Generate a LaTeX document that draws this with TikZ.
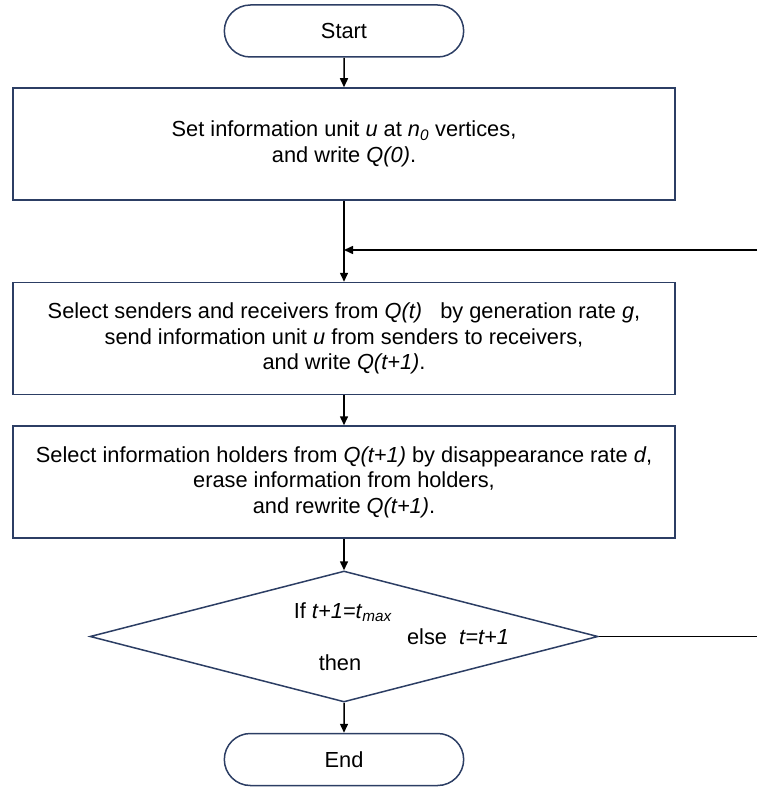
\documentclass[tikz,border=0pt]{standalone}
\usepackage{fontspec}
\setmainfont{Liberation Sans}
\usetikzlibrary{shapes.geometric,shapes.misc,arrows.meta}
\definecolor{boxline}{RGB}{44,62,100}
\begin{document}
\begin{tikzpicture}[x=1pt,y=-1pt,>={Triangle[length=9pt,width=8pt]},font=\fontsize{21.8}{25.5}\selectfont]
        \tikzstyle{terminal}=[rounded rectangle,draw=boxline,line width=1.5pt,minimum width=246pt,minimum height=52pt]
        \tikzstyle{process}=[rectangle,draw=boxline,line width=1.5pt,minimum width=662pt,minimum height=112pt,align=center]
        \tikzstyle{decision}=[diamond,draw=boxline,line width=1.5pt,minimum width=508pt,minimum height=131pt,inner sep=0pt]
        \tikzstyle{edge}=[draw=black, line width=1.5pt]

        \useasboundingbox (0,0) rectangle (757,789);

         \node [terminal] (start) at (344,31) {Start};
         \node [process] (init) at (344,144) {Set information unit \textit{u} at \textit{n}\textsubscript{\textit{0}} vertices,\\and write \textit{Q(0)}.};
         \node [process] (send) at (344,338.5) {Select senders and receivers from \textit{Q(t)}\ \ \ by generation rate \textit{g},\\send information unit \textit{u} from senders to receivers,\\and write \textit{Q(t+1)}.};
         \node [process] (erase) at (344,482) {Select information holders from \textit{Q(t+1)} by disappearance rate \textit{d},\\erase information from holders,\\and rewrite \textit{Q(t+1)}.};
         \node [decision] (check) at (344,636.5) {};
         \node [terminal] (end) at (344,759.5) {End};

         % labels inside the decision
         \node (iflabel) at (343,612) {If \textit{t+1=t}\textsubscript{\textit{max}}};
         \node (elselabel) at (458,637) {else\ \ \textit{t=t+1}};
         \node (thenlabel) at (340,663) {then};

         \coordinate (loopin) at (757,250);

 		\path[edge,->] (start) edge (init);
 		\path[edge,->] (init) edge (send);
 		\path[edge,->] (send) edge (erase);
 		\path[edge,->] (erase) edge (check);
 		\path[edge,->] (check) edge (end);
 		\draw[edge,->] (loopin) -- (loopin -| init.south);
 		\draw[edge] (check.east) -- (check.east -| loopin);
      \end{tikzpicture}
\end{document}
